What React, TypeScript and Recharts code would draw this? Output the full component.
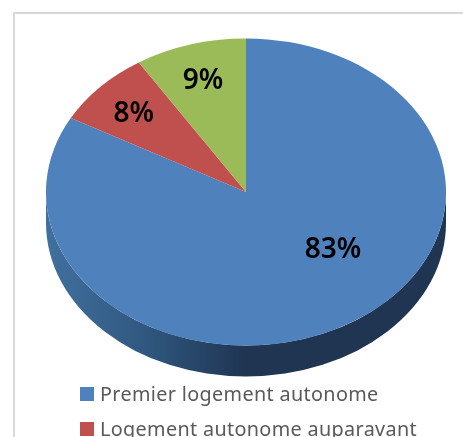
import React from 'react'
import { PieChart, Pie, Legend } from 'recharts'

const categories = ['Premier logement autonome', 'Logement autonome auparavant', '']
const shares = [83, 8, 9]
const colors = ['#4f81bd', '#c0504d', '#9bbb59']

const chartData = categories.map((name, i) => ({ name, value: shares[i], fill: colors[i] }))

const SQUASH = 0.7675 // ellipse height / width
const DEPTH = 31 // thickness of the 3D rim
const LABEL_FONT = '"Noto Sans", sans-serif'

const ellipsePoint = (cx: number, cy: number, r: number, deg: number) => {
  const a = (deg * Math.PI) / 180
  return { x: cx + r * Math.cos(a), y: cy - r * SQUASH * Math.sin(a) }
}

// Sector drawn as an ellipse, plus its rim when it reaches the lower half
const Slice3D = (props: any) => {
  const { cx, cy, outerRadius: r, startAngle, endAngle, fill } = props
  const from = ellipsePoint(cx, cy, r, startAngle)
  const to = ellipsePoint(cx, cy, r, endAngle)
  const large = Math.abs(startAngle - endAngle) > 180 ? 1 : 0
  const ry = r * SQUASH
  const hasRim = startAngle >= 0 && endAngle <= -180

  return (
    <g>
      {hasRim && (
        <>
          <defs>
            <linearGradient id="rim" x1="0" y1="0" x2="1" y2="0">
              <stop offset="0" stopColor="#41709f" />
              <stop offset="0.25" stopColor="#30577f" />
              <stop offset="0.5" stopColor="#1f3552" />
              <stop offset="1" stopColor="#1f3552" />
            </linearGradient>
          </defs>
          <path
            d={`M${cx - r},${cy} A${r},${ry} 0 0 0 ${cx + r},${cy} L${cx + r},${cy + DEPTH} A${r},${ry} 0 0 1 ${cx - r},${cy + DEPTH} Z`}
            fill="url(#rim)"
          />
        </>
      )}
      <path
        d={`M${cx},${cy} L${from.x},${from.y} A${r},${ry} 0 ${large} 1 ${to.x},${to.y} Z`}
        fill={fill}
      />
    </g>
  )
}

const renderLabel = (props: any) => {
  const { cx, cy, midAngle, outerRadius, value } = props
  // the big slice has its label moved toward the right in the original
  const big = value > 50
  const p = ellipsePoint(cx, cy, outerRadius * (big ? 0.565 : 0.77), big ? -39.6 : midAngle)
  return (
    <text
      x={p.x}
      y={p.y}
      textAnchor="middle"
      dominantBaseline="central"
      fill="#000000"
      fontFamily={LABEL_FONT}
      fontSize={28}
      fontWeight={600}
    >
      {value}%
    </text>
  )
}

const renderLegend = (props: any) => (
  <div>
    {props.payload
      .filter((item: any) => item.value)
      .map((item: any) => (
        <div key={item.value} style={{ display: 'flex', alignItems: 'center', height: 34.5 }}>
          <span style={{ width: 14, height: 14, background: item.color, marginRight: 6 }} />
          <span
            style={{
              fontFamily: LABEL_FONT,
              fontSize: 19.8,
              lineHeight: 1,
              color: '#595959',
              whiteSpace: 'nowrap',
              letterSpacing: 0.35,
            }}
          >
            {item.value}
          </span>
        </div>
      ))}
  </div>
)

export default function App() {
  return (
    <div
      style={{
        position: 'absolute',
        left: 0,
        top: 0,
        width: 463,
        height: 437,
        overflow: 'hidden',
        background: '#ffffff',
        filter: 'blur(0.4px)',
      }}
    >
      {/* chart frame, cut by the picture on the right and bottom */}
      <div
        style={{
          position: 'absolute',
          left: 13,
          top: 12,
          width: 470,
          height: 450,
          border: '2px solid #d9d9d9',
        }}
      />
      <div style={{ position: 'absolute', left: 0, top: 0 }}>
        <PieChart width={463} height={437} margin={{ top: 0, right: 0, bottom: 0, left: 0 }}>
          <Pie
            data={chartData}
            dataKey="value"
            nameKey="name"
            cx={246}
            cy={192}
            outerRadius={200}
            startAngle={90}
            endAngle={-270}
            stroke="none"
            shape={Slice3D}
            label={renderLabel}
            labelLine={false}
            isAnimationActive={false}
          />
          <Legend
            content={renderLegend}
            itemSorter={null}
            wrapperStyle={{ position: 'absolute', left: 80, top: 377, width: 380, bottom: 'auto' }}
          />
        </PieChart>
      </div>
    </div>
  )
}
